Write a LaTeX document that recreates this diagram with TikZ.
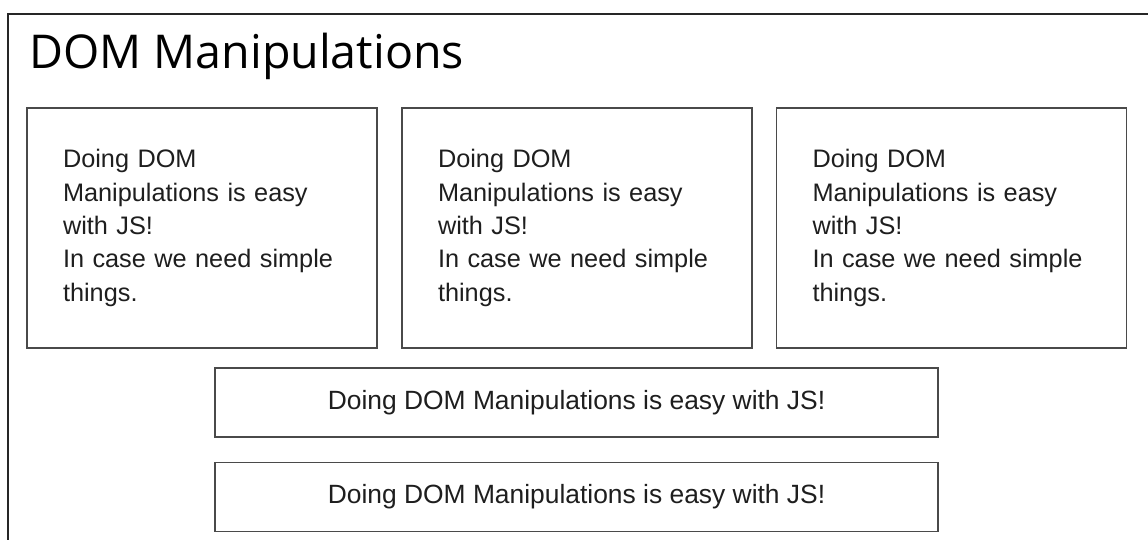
\documentclass[tikz,border=0pt]{standalone}
\usepackage{fontspec}
\setmainfont{Liberation Sans}
\newfontfamily\titlefont{Open Sans}
\definecolor{framecol}{HTML}{262626}
\definecolor{boxcol}{HTML}{4A4A4A}
\definecolor{txtcol}{HTML}{1E1E1E}
\begin{document}
\begin{tikzpicture}[x=1pt,y=-1pt,
  bigbox/.style={draw=boxcol, line width=1.6pt, rectangle, minimum width=350pt, minimum height=240pt,
    text width=278pt, inner xsep=36pt, inner ysep=0pt, align=left, text=txtcol,
    font={\fontsize{25.3pt}{33.4pt}\selectfont}},
  widebox/.style={draw=boxcol, line width=1.6pt, rectangle, minimum width=723pt, minimum height=69pt,
    text=txtcol, font={\fontsize{26.4pt}{30pt}\selectfont}},
  frameline/.style={draw=framecol, line width=2pt}]
\useasboundingbox (0,0) rectangle (1148,540);
\coordinate (fbl) at (8,541);
\coordinate (ftl) at (8,14);
\coordinate (ftr) at (1149,14);
\draw[frameline] (fbl) -- (ftl) -- (ftr);
\node[anchor=base west, text=black, inner sep=0pt, font={\titlefont\fontsize{46.6pt}{50pt}\selectfont}] (title) at (29,68.5) {DOM Manipulations};
\node[bigbox] (b1) at (202,228) {Doing DOM\\Manipulations is easy\\with JS!\\In case we need simple\\things.};
\node[bigbox] (b2) at (577,228) {Doing DOM\\Manipulations is easy\\with JS!\\In case we need simple\\things.};
\node[bigbox] (b3) at (951.5,228) {Doing DOM\\Manipulations is easy\\with JS!\\In case we need simple\\things.};
\node[widebox] (b4) at (576.5,402.5) {Doing DOM Manipulations is easy with JS!};
\node[widebox] (b5) at (576.5,497) {Doing DOM Manipulations is easy with JS!};
\end{tikzpicture}
\end{document}
